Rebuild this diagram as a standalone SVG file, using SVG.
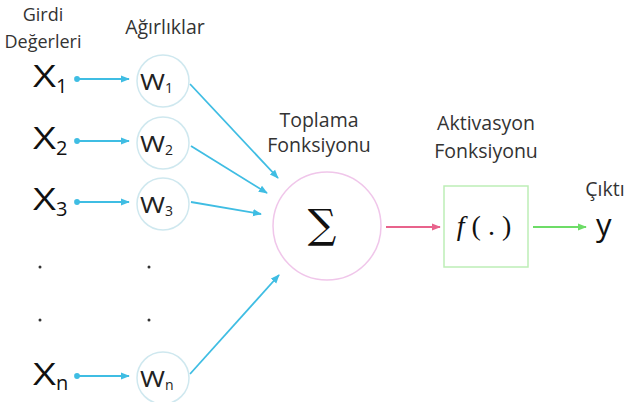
<svg xmlns="http://www.w3.org/2000/svg" width="627" height="402" viewBox="0 0 627 402">
  <style>
    .lbl { font-family: "Open Sans", "Noto Sans", sans-serif; font-size: 19.5px; fill: #333; text-anchor: middle; }
    .hd { font-size: 18px; }
    .big { font-family: "Open Sans", "Noto Sans", sans-serif; font-size: 31px; fill: #111; }
    .sub { font-family: "Open Sans", "Noto Sans", sans-serif; font-size: 20px; fill: #111; }
    .w { font-family: "Open Sans", "Noto Sans", sans-serif; font-size: 21px; fill: #222; }
    .wsub { font-family: "Open Sans", "Noto Sans", sans-serif; font-size: 14px; fill: #222; }
    .dot { fill: #333; }
    .wc { fill: #fff; stroke: #cfe8ef; stroke-width: 1.5; }
    .link { stroke: #3fbde3; stroke-width: 1.8; fill: none; }
  </style>
  <defs>
    <marker id="ah" viewBox="0 0 10 10" refX="9" refY="5" markerWidth="5" markerHeight="5" orient="auto">
      <path d="M0,1 L10,5 L0,9 z" fill="#3fbde3"/>
    </marker>
    <marker id="dt" viewBox="0 0 10 10" refX="5" refY="5" markerWidth="4" markerHeight="4">
      <circle cx="5" cy="5" r="4" fill="#3fbde3"/>
    </marker>
    <marker id="ahr" viewBox="0 0 10 10" refX="9" refY="5" markerWidth="5" markerHeight="5" orient="auto">
      <path d="M0,1 L10,5 L0,9 z" fill="#e8638c"/>
    </marker>
    <marker id="ahg" viewBox="0 0 10 10" refX="9" refY="5" markerWidth="5" markerHeight="5" orient="auto">
      <path d="M0,1 L10,5 L0,9 z" fill="#6ddc67"/>
    </marker>
  </defs>

  <rect width="627" height="402" fill="#fff"/>

  <!-- column headers -->
  <text class="lbl hd" x="43" y="21">Girdi</text>
  <text class="lbl hd" x="43" y="48">Değerleri</text>
  <text class="lbl" x="165" y="34">Ağırlıklar</text>
  <text class="lbl" x="319" y="127">Toplama</text>
  <text class="lbl" x="319" y="152">Fonksiyonu</text>
  <text class="lbl" x="486" y="130">Aktivasyon</text>
  <text class="lbl" x="486" y="158">Fonksiyonu</text>
  <text class="lbl" x="605" y="196">Çıktı</text>

  <!-- connectors -->
  <g id="connectors">
    <line class="link" x1="77" y1="79" x2="129" y2="79" marker-start="url(#dt)" marker-end="url(#ah)"/>
    <line class="link" x1="77" y1="141" x2="129" y2="141" marker-start="url(#dt)" marker-end="url(#ah)"/>
    <line class="link" x1="77" y1="202" x2="129" y2="202" marker-start="url(#dt)" marker-end="url(#ah)"/>
    <line class="link" x1="77" y1="376" x2="129" y2="376" marker-start="url(#dt)" marker-end="url(#ah)"/>
    <line class="link" x1="190" y1="84" x2="278" y2="178" marker-end="url(#ah)"/>
    <line class="link" x1="191" y1="146" x2="267" y2="193" marker-end="url(#ah)"/>
    <line class="link" x1="191" y1="202" x2="261" y2="214" marker-end="url(#ah)"/>
    <line class="link" x1="190" y1="374" x2="279" y2="275" marker-end="url(#ah)"/>
    <line x1="386" y1="227" x2="440" y2="227" stroke="#e8638c" stroke-width="1.8" marker-end="url(#ahr)"/>
    <line x1="533" y1="227" x2="586" y2="227" stroke="#6ddc67" stroke-width="1.8" marker-end="url(#ahg)"/>
  </g>

  <!-- inputs -->
  <g id="x1"><text class="big" x="33" y="87" textLength="23" lengthAdjust="spacingAndGlyphs">X</text><text class="sub" x="56" y="93">1</text></g>
  <g id="x2"><text class="big" x="33" y="149" textLength="23" lengthAdjust="spacingAndGlyphs">X</text><text class="sub" x="56" y="155">2</text></g>
  <g id="x3"><text class="big" x="33" y="210" textLength="23" lengthAdjust="spacingAndGlyphs">X</text><text class="sub" x="56" y="216">3</text></g>
  <g id="xn"><text class="big" x="33" y="385" textLength="23" lengthAdjust="spacingAndGlyphs">X</text><text class="sub" x="56" y="390">n</text></g>

  <!-- ellipsis dots -->
  <g id="dots">
    <circle class="dot" cx="40" cy="267" r="1.5"/>
    <circle class="dot" cx="40" cy="320" r="1.5"/>
    <circle class="dot" cx="149" cy="267" r="1.5"/>
    <circle class="dot" cx="149" cy="320" r="1.5"/>
  </g>

  <!-- weights -->
  <g id="w1"><circle class="wc" cx="163" cy="81" r="26"/><text class="w" x="140" y="90" textLength="25" lengthAdjust="spacingAndGlyphs">W</text><text class="wsub" x="165" y="93">1</text></g>
  <g id="w2"><circle class="wc" cx="163" cy="143" r="26"/><text class="w" x="140" y="152" textLength="25" lengthAdjust="spacingAndGlyphs">W</text><text class="wsub" x="165" y="155">2</text></g>
  <g id="w3"><circle class="wc" cx="163" cy="204" r="26"/><text class="w" x="140" y="213" textLength="25" lengthAdjust="spacingAndGlyphs">W</text><text class="wsub" x="165" y="216">3</text></g>
  <g id="wn"><circle class="wc" cx="163" cy="378" r="26"/><text class="w" x="140" y="387" textLength="25" lengthAdjust="spacingAndGlyphs">W</text><text class="wsub" x="165" y="390">n</text></g>

  <!-- summation -->
  <g id="sum">
    <circle cx="327" cy="226" r="54" fill="#fff" stroke="#f0c6ea" stroke-width="1.5"/>
    <text x="322" y="238" font-family="'DejaVu Serif', 'Liberation Serif', serif" font-size="40" fill="#111" text-anchor="middle">∑</text>
  </g>

  <!-- activation -->
  <g id="activation">
    <rect x="444" y="186" width="84" height="81" fill="#fff" stroke="#bdeeb6" stroke-width="1.5"/>
    <text x="484" y="235" font-family="'Liberation Serif', serif" font-size="28" fill="#111" text-anchor="middle"><tspan font-style="italic">f</tspan> ( . )</text>
  </g>

  <!-- output -->
  <g id="output"><text class="big" x="596" y="236" font-size="30">y</text></g>
</svg>
